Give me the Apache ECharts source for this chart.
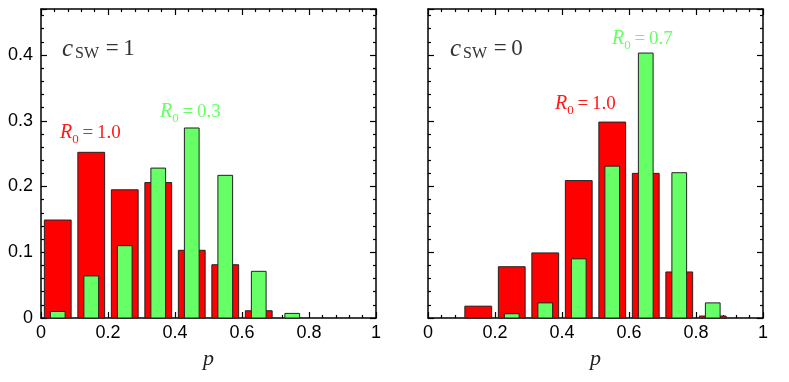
<!DOCTYPE html>
<html>
<head>
<meta charset="utf-8">
<script src="https://cdn.jsdelivr.net/npm/echarts@6/dist/echarts.min.js"></script>
<style>
html, body { margin: 0; padding: 0; background: #fff; }
#main { width: 789px; height: 382px; }
</style>
</head>
<body>
<div id="main"></div>
<script>
// bin centres of the p histogram
var binCenters = [0.05, 0.15, 0.25, 0.35, 0.45, 0.55, 0.65, 0.75, 0.85];
// c_SW = 1 panel
var leftRed = [0.149, 0.252, 0.195, 0.206, 0.103, 0.081, 0.011, 0, 0];
var leftGreen = [0.010, 0.064, 0.110, 0.228, 0.289, 0.217, 0.071, 0.007, 0];
// c_SW = 0 panel
var rightRed = [0, 0.018, 0.078, 0.099, 0.209, 0.298, 0.220, 0.070, 0.003];
var rightGreen = [0, 0, 0.0065, 0.023, 0.090, 0.231, 0.403, 0.221, 0.023];

var myChart = echarts.init(document.getElementById("main"));

function pairs(vals) {
	var out = [];
	for (var i = 0; i < binCenters.length; i++) {
		out.push([binCenters[i], vals[i]]);
	}
	return out;
}

function barItem(w, color) {
	return function(params, api) {
		var y = api.value(1);
		if (!y) return null;
		var x = api.value(0);
		var p1 = api.coord([x - w / 2, y]);
		var p2 = api.coord([x + w / 2, 0]);
		return {
			type: 'rect',
			shape: { x: p1[0], y: p1[1], width: p2[0] - p1[0], height: p2[1] - p1[1] },
			style: { fill: color, stroke: '#222', lineWidth: 1 }
		};
	};
}

var labelFont = { color: '#000', fontSize: 18, fontFamily: 'Liberation Sans' };

function xAx(grid, pos, showLabel) {
	return {
		type: 'value', gridIndex: grid, position: pos, min: 0, max: 1, interval: 0.2,
		axisLine: { onZero: false, lineStyle: { color: '#000', width: 1.5 } },
		axisTick: { inside: true, length: 6, lineStyle: { color: '#000', width: 1.2 } },
		minorTick: { show: true, splitNumber: 5, length: 3, lineStyle: { color: '#000', width: 1.2 } },
		axisLabel: Object.assign({ show: showLabel, margin: 6 }, labelFont),
		splitLine: { show: false },
		name: showLabel ? 'p' : '', nameLocation: 'middle', nameGap: 30,
		nameTextStyle: { fontFamily: 'Liberation Serif', fontStyle: 'italic', fontSize: 22, color: '#222' }
	};
}

function yAx(grid, pos, showLabel) {
	return {
		type: 'value', gridIndex: grid, position: pos, min: 0, max: 0.47, interval: 0.1,
		axisLine: { onZero: false, lineStyle: { color: '#000', width: 1.5 } },
		axisTick: { inside: true, length: 6, lineStyle: { color: '#000', width: 1.2 } },
		minorTick: { show: true, splitNumber: 5, length: 3, lineStyle: { color: '#000', width: 1.2 } },
		axisLabel: Object.assign({ show: showLabel, margin: 8, showMaxLabel: false }, labelFont),
		splitLine: { show: false }
	};
}

var dark = '#333', red = '#ff1a1a', green = '#66ff66';
var rich = {
	c: { fontFamily: 'Liberation Serif', fontStyle: 'italic', fontSize: 25, fill: dark, verticalAlign: 'middle' },
	sw: { fontFamily: 'Liberation Serif', fontSize: 16, fill: dark, verticalAlign: 'bottom', padding: [0, 2, 0, 2] },
	eq: { fontFamily: 'Liberation Serif', fontSize: 23, fill: dark, verticalAlign: 'middle' },
	rr: { fontFamily: 'Liberation Serif', fontStyle: 'italic', fontSize: 20, fill: red, verticalAlign: 'middle' },
	rs: { fontFamily: 'Liberation Serif', fontSize: 13, fill: red, verticalAlign: 'bottom', padding: [0, 0, 0, 0] },
	re: { fontFamily: 'Liberation Serif', fontSize: 19, fill: red, verticalAlign: 'middle' },
	gr: { fontFamily: 'Liberation Serif', fontStyle: 'italic', fontSize: 20, fill: green, verticalAlign: 'middle' },
	gs: { fontFamily: 'Liberation Serif', fontSize: 13, fill: green, verticalAlign: 'bottom', padding: [0, 0, 0, 0] },
	ge: { fontFamily: 'Liberation Serif', fontSize: 19, fill: green, verticalAlign: 'middle' }
};

function txt(left, top, str) {
	return { type: 'text', left: left, top: top, style: { text: str, rich: rich, lineHeight: 26 } };
}

var option = {
	animation: false,
	backgroundColor: '#fff',
	grid: [
		{ left: 41, top: 9, width: 335, height: 309 },
		{ left: 428, top: 9, width: 335, height: 309 }
	],
	xAxis: [xAx(0, 'bottom', true), xAx(0, 'top', false), xAx(1, 'bottom', true), xAx(1, 'top', false)],
	yAxis: [yAx(0, 'left', true), yAx(0, 'right', false), yAx(1, 'left', false), yAx(1, 'right', false)],
	series: [
		{ type: 'custom', xAxisIndex: 0, yAxisIndex: 0, renderItem: barItem(0.08, '#ff0000'), data: pairs(leftRed), z: 2 },
		{ type: 'custom', xAxisIndex: 0, yAxisIndex: 0, renderItem: barItem(0.044, '#66ff66'), data: pairs(leftGreen), z: 3 },
		{ type: 'custom', xAxisIndex: 2, yAxisIndex: 2, renderItem: barItem(0.08, '#ff0000'), data: pairs(rightRed), z: 2 },
		{ type: 'custom', xAxisIndex: 2, yAxisIndex: 2, renderItem: barItem(0.044, '#66ff66'), data: pairs(rightGreen), z: 3 }
	],
	graphic: [
		txt(62, 36, '{c|c}{sw|SW}{eq|\u2009=\u20091}'),
		txt(60, 120, '{rr|R}{rs|0}{re|\u2009=\u20091.0}'),
		txt(160, 99, '{gr|R}{gs|0}{ge|\u2009=\u20090.3}'),
		txt(450, 36, '{c|c}{sw|SW}{eq|\u2009=\u20090}'),
		txt(555, 91, '{rr|R}{rs|0}{re|\u2009=\u20091.0}'),
		txt(612, 26, '{gr|R}{gs|0}{ge|\u2009=\u20090.7}')
	]
};
myChart.setOption(option);
</script>
</body>
</html>
